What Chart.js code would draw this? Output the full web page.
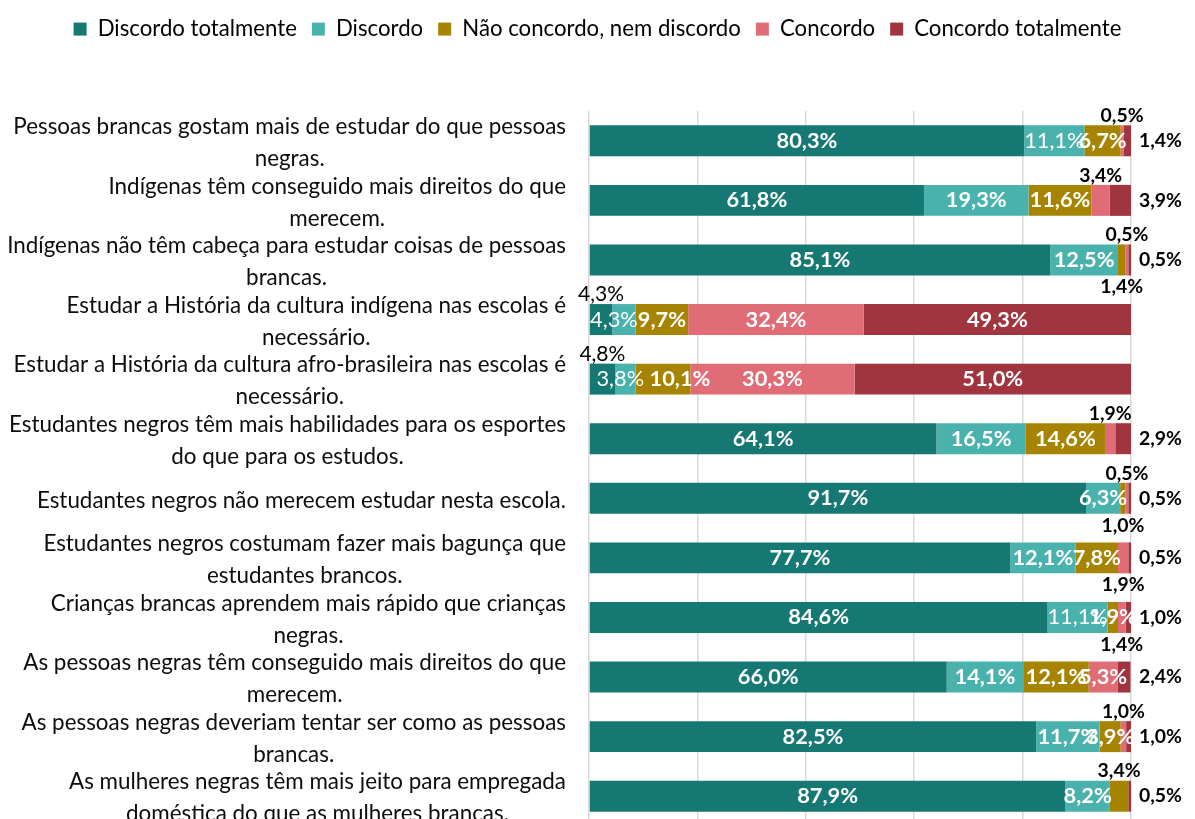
<!DOCTYPE html>
<html lang="pt">
<head>
<meta charset="utf-8">
<title>Percepções dos estudantes</title>
<script src="https://cdn.jsdelivr.net/npm/chart.js@4.4.0/dist/chart.umd.min.js"></script>
<style>
  html, body { margin: 0; padding: 0; width: 1195px; height: 819px; overflow: hidden; background: #fff; }
  #wrap { position: relative; width: 1195px; height: 826px; }
</style>
</head>
<body>
<div id="wrap"><canvas id="chart"></canvas></div>
<script>
// ---- data ----
const categories = [
    ['Pessoas brancas gostam mais de estudar do que pessoas', 'negras.'],
    ['Indígenas têm conseguido mais direitos do que', 'merecem.'],
    ['Indígenas não têm cabeça para estudar coisas de pessoas', 'brancas.'],
    ['Estudar a História da cultura indígena nas escolas é', 'necessário.'],
    ['Estudar a História da cultura afro-brasileira nas escolas é', 'necessário.'],
    ['Estudantes negros têm mais habilidades para os esportes', 'do que para os estudos.'],
    ['Estudantes negros não merecem estudar nesta escola.'],
    ['Estudantes negros costumam fazer mais bagunça que', 'estudantes brancos.'],
    ['Crianças brancas aprendem mais rápido que crianças', 'negras.'],
    ['As pessoas negras têm conseguido mais direitos do que', 'merecem.'],
    ['As pessoas negras deveriam tentar ser como as pessoas', 'brancas.'],
    ['As mulheres negras têm mais jeito para empregada', 'doméstica do que as mulheres brancas.']
];
const seriesNames = ['Discordo totalmente', 'Discordo', 'Não concordo, nem discordo', 'Concordo', 'Concordo totalmente'];
const discordoTotalmente = [80.3, 61.8, 85.1, 4.3, 4.8, 64.1, 91.7, 77.7, 84.6, 66.0, 82.5, 87.9];
const discordo           = [11.1, 19.3, 12.5, 4.3, 3.8, 16.5, 6.3, 12.1, 11.1, 14.1, 11.7, 8.2];
const neutro             = [6.7, 11.6, 1.4, 9.7, 10.1, 14.6, 1.0, 7.8, 1.9, 12.1, 3.9, 3.4];
const concordo           = [0.5, 3.4, 0.5, 32.4, 30.3, 1.9, 0.5, 1.9, 1.4, 5.3, 1.0, 0];
const concordoTotalmente = [1.4, 3.9, 0.5, 49.3, 51.0, 2.9, 0.5, 0.5, 1.0, 2.4, 1.0, 0.5];
const xTicks = [0, 20, 40, 60, 80, 100];

// ---- styling ----
const colors = ['#167872', '#4AB2AD', '#A68400', '#E06C75', '#A0343F'];
const FAMILY = 'Lato, "Open Sans", sans-serif';

// where each value label sits (in / above / below / right / none)
const placements = [
    ['in', 'in', 'in', 'above', 'above', 'in', 'in', 'in', 'in', 'in', 'in', 'in'],
    ['in', 'in', 'in', 'in', 'in', 'in', 'in', 'in', 'in', 'in', 'in', 'in'],
    ['in', 'in', 'below', 'in', 'in', 'in', 'below', 'in', 'in', 'in', 'in', 'above'],
    ['above', 'above', 'above', 'in', 'in', 'above', 'above', 'below', 'below', 'in', 'above', 'none'],
    ['right', 'right', 'right', 'in', 'in', 'right', 'right', 'right', 'right', 'right', 'right', 'right']
];
// Discordo labels that are drawn in regular weight
const thinDiscordo = [0, 3, 4, 8];
// hand nudges (px) for the crowded labels of rows 4 and 5, key = "dataset-row"
const nudges = { '1-3': -10, '1-4': -5, '2-4': 17 };

// font sizes fitted so text widths match the picture
function fitSize(text, width, weight) {
    const c = document.createElement('canvas').getContext('2d');
    c.font = `${weight} 20px ${FAMILY}`;
    return +(20 * width / c.measureText(text).width).toFixed(1);
}
const legendSize = fitSize('Discordo totalmente', 199, 'normal');
const catSize = fitSize('Estudantes negros não merecem estudar nesta escola.', 530, 'normal');
const inSize = fitSize('80,3%', 61, 'bold');
const outSize = fitSize('1,4%', 43, 'bold');
const outThinSize = fitSize('4,3%', 46, 'normal');

const fmt = v => v.toFixed(1).replace('.', ',') + '%';

// category labels: right-aligned block, lines centred inside it
const categoryLabels = {
    id: 'categoryLabels',
    afterDraw(chart) {
        const ctx = chart.ctx;
        const yScale = chart.scales.y;
        const right = chart.chartArea.left - 23;
        const lineH = catSize * 1.43;
        ctx.save();
        ctx.font = `normal ${catSize}px ${FAMILY}`;
        ctx.fillStyle = '#0d0d0d';
        ctx.textAlign = 'center';
        ctx.textBaseline = 'middle';
        categories.forEach((lines, i) => {
            const widest = Math.max(...lines.map(l => ctx.measureText(l).width));
            const cx = right - widest / 2;
            const cy = yScale.getPixelForValue(i) + 2;
            lines.forEach((l, k) => {
                ctx.fillText(l, cx, cy + (k - (lines.length - 1) / 2) * lineH);
            });
        });
        ctx.restore();
    }
};

// value labels on / around each segment
const valueLabels = {
    id: 'valueLabels',
    afterDatasetsDraw(chart) {
        const ctx = chart.ctx;
        ctx.save();
        ctx.textBaseline = 'middle';
        chart.data.datasets.forEach((ds, d) => {
            chart.getDatasetMeta(d).data.forEach((bar, i) => {
                const where = placements[d][i];
                if (where === 'none') return;
                let x = (bar.x + bar.base) / 2 + (nudges[d + '-' + i] || 0);
                let y = bar.y;
                let align = 'center';
                let color = '#000';
                let font = `bold ${outSize}px ${FAMILY}`;
                if (where === 'in') {
                    color = '#fff';
                    font = (d === 1 && thinDiscordo.includes(i))
                        ? `normal ${inSize}px ${FAMILY}`
                        : `bold ${inSize}px ${FAMILY}`;
                } else if (where === 'above') {
                    y -= 25;
                    if (d === 0) font = `normal ${outThinSize}px ${FAMILY}`;
                } else if (where === 'below') {
                    y += 27;
                } else if (where === 'right') {
                    x = chart.chartArea.right + 8;
                    align = 'left';
                }
                ctx.font = font;
                ctx.fillStyle = color;
                ctx.textAlign = align;
                ctx.fillText(fmt(ds.data[i]), x, y);
            });
        });
        ctx.restore();
    }
};

// fixed legend block height so the plot starts where it does in the picture
const legendHeight = {
    id: 'legendHeight',
    beforeInit(chart) {
        const fit = chart.legend.fit;
        chart.legend.fit = function () {
            fit.call(this);
            this.height = 108;
        };
    }
};

const seriesData = [discordoTotalmente, discordo, neutro, concordo, concordoTotalmente];

new Chart(document.getElementById('chart'), {
    type: 'bar',
    data: {
        labels: categories,
        datasets: seriesNames.map((name, d) => ({
            label: name,
            data: seriesData[d],
            backgroundColor: colors[d],
            borderWidth: 0,
            barPercentage: 0.52,
            categoryPercentage: 1
        }))
    },
    options: {
        indexAxis: 'y',
        responsive: true,
        maintainAspectRatio: false,
        animation: false,
        layout: { padding: { top: 3 } },
        scales: {
            x: {
                stacked: true,
                min: xTicks[0],
                max: xTicks[xTicks.length - 1],
                ticks: { display: false, stepSize: xTicks[1] - xTicks[0] },
                grid: { color: '#d9d9d9', lineWidth: 1.5, drawTicks: false },
                border: { display: false }
            },
            y: {
                stacked: true,
                ticks: { display: false },
                grid: { display: false },
                border: { display: false },
                afterFit(s) { s.width = 589; }
            },
            yRight: {
                type: 'category',
                position: 'right',
                labels: categories,
                ticks: { display: false },
                grid: { display: false },
                border: { display: false },
                afterFit(s) { s.width = 64; }
            }
        },
        plugins: {
            legend: {
                position: 'top',
                labels: {
                    boxWidth: 13,
                    boxHeight: 13,
                    padding: 15,
                    color: '#000',
                    font: { family: FAMILY, size: legendSize }
                }
            },
            tooltip: { enabled: false }
        }
    },
    plugins: [legendHeight, categoryLabels, valueLabels]
});
</script>
</body>
</html>
